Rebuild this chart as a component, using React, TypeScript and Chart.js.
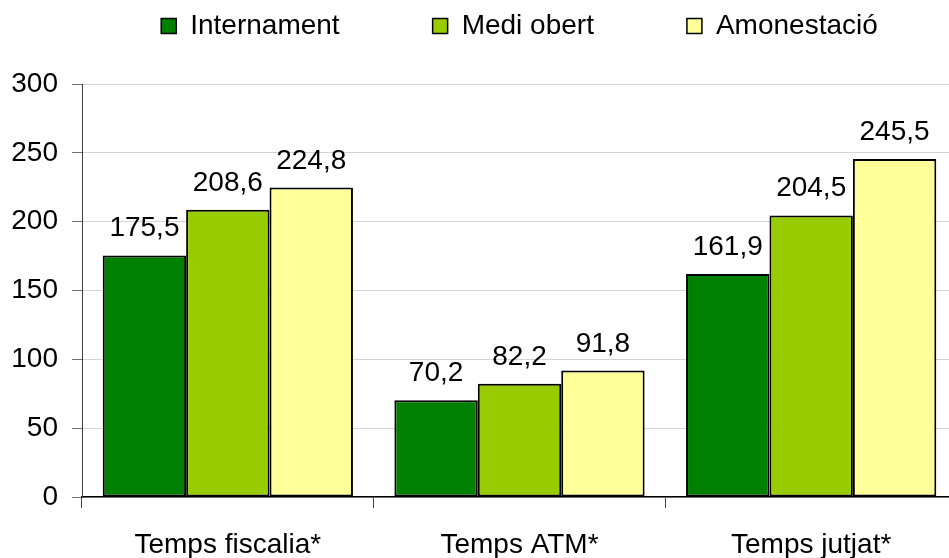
import React, { useEffect, useRef } from "react";
import { Chart, registerables } from "chart.js";

Chart.register(...registerables);

const categories = ["Temps fiscalia*", "Temps ATM*", "Temps jutjat*"];
const seriesNames = ["Internament", "Medi obert", "Amonestació"];
const internament = [175.5, 70.2, 161.9];
const mediObert = [208.6, 82.2, 204.5];
const amonestacio = [224.8, 91.8, 245.5];
const seriesColors = ["#008000", "#99CC00", "#FFFF99"];
const yTicks = [0, 50, 100, 150, 200, 250, 300];

const FONT = "'Liberation Sans', Arial, sans-serif";

const fmt = (v: number) => v.toFixed(1).replace(".", ",");

export default function App() {
  const ref = useRef<HTMLCanvasElement | null>(null);

  useEffect(() => {
    if (!ref.current) return;
    const legendPad = 93;

    const layoutPlugin = {
      id: "layoutTweaks",
      beforeInit(chart: any) {
        const lg = chart.legend;
        if (lg) {
          const orig = lg.fit.bind(lg);
          lg.fit = function () {
            const w = this.maxWidth;
            this.maxWidth = 3000;
            orig();
            this.maxWidth = w;
            this.width = w;
            this.height = 84;
          };
        }
      },
      afterLayout(chart: any) {
        const lg = chart.legend;
        if (lg) {
          const extra = 300;
          lg.top = 12 - legendPad;
          lg.left = chart.chartArea.left - extra;
          lg.right = chart.chartArea.right + extra;
          lg.width = lg.right - lg.left;
        }
      },
    };

    const valueLabels = {
      id: "valueLabels",
      afterDatasetsDraw(chart: any) {
        const ctx = chart.ctx;
        ctx.save();
        ctx.font = `28px ${FONT}`;
        ctx.fillStyle = "#000";
        ctx.textAlign = "center";
        ctx.textBaseline = "alphabetic";
        chart.data.datasets.forEach((ds: any, i: number) => {
          const meta = chart.getDatasetMeta(i);
          meta.data.forEach((el: any, j: number) => {
            ctx.fillText(fmt(ds.data[j]), el.x, el.y - 19);
          });
        });
        ctx.restore();
      },
    };

    const data = [internament, mediObert, amonestacio];
    const chart = new Chart(ref.current, {
      type: "bar",
      data: {
        labels: categories,
        datasets: seriesNames.map((name, i) => ({
          label: name,
          data: data[i],
          backgroundColor: seriesColors[i],
          borderColor: "#000",
          borderWidth: 2,
          borderSkipped: false,
          categoryPercentage: 0.858,
          barPercentage: 1,
        })),
      },
      options: {
        responsive: false,
        animation: false,
        devicePixelRatio: 1,
        layout: { padding: { left: 0, right: 8, top: 0, bottom: 0 } },
        plugins: {
          tooltip: { enabled: false },
          legend: {
            position: "top",
            align: "center",
            labels: {
              font: { family: FONT, size: 28 },
              color: "#000",
              boxWidth: 15,
              boxHeight: 15,
              padding: legendPad,
              generateLabels: (chart: any) =>
                chart.data.datasets.map((ds: any, i: number) => ({
                  text: ds.label,
                  fillStyle: ds.backgroundColor,
                  strokeStyle: "#000",
                  lineWidth: 1.5,
                  hidden: false,
                  datasetIndex: i,
                })),
            },
          },
        },
        scales: {
          x: {
            grid: {
              offset: true,
              drawOnChartArea: false,
              tickLength: 11,
              color: "#404040",
              tickColor: "#404040",
            },
            border: { color: "#000", width: 1.5 },
            ticks: {
              font: { family: FONT, size: 28 },
              color: "#000",
              padding: 20,
              maxRotation: 0,
            },
            afterFit(scale: any) {
              scale.height = 61;
            },
          },
          y: {
            min: 0,
            max: 300,
            afterBuildTicks(scale: any) {
              scale.ticks = yTicks.map((v) => ({ value: v }));
            },
            grid: {
              color: "#d4d4d4",
              tickColor: "#707070",
              tickLength: 10,
              lineWidth: 1,
            },
            border: { color: "#404040", width: 1 },
            ticks: {
              font: { family: FONT, size: 28 },
              color: "#000",
              padding: 14,
            },
            afterFit(scale: any) {
              scale.width = 82;
            },
          },
        },
      },
      plugins: [layoutPlugin, valueLabels],
    } as any);

    return () => chart.destroy();
  }, []);

  return (
    <div
      style={{
        position: "fixed",
        left: 0,
        top: 0,
        width: 949,
        height: 558,
        overflow: "hidden",
        background: "#fff",
      }}
    >
      <canvas ref={ref} width={965} height={558} style={{ display: "block" }} />
    </div>
  );
}
